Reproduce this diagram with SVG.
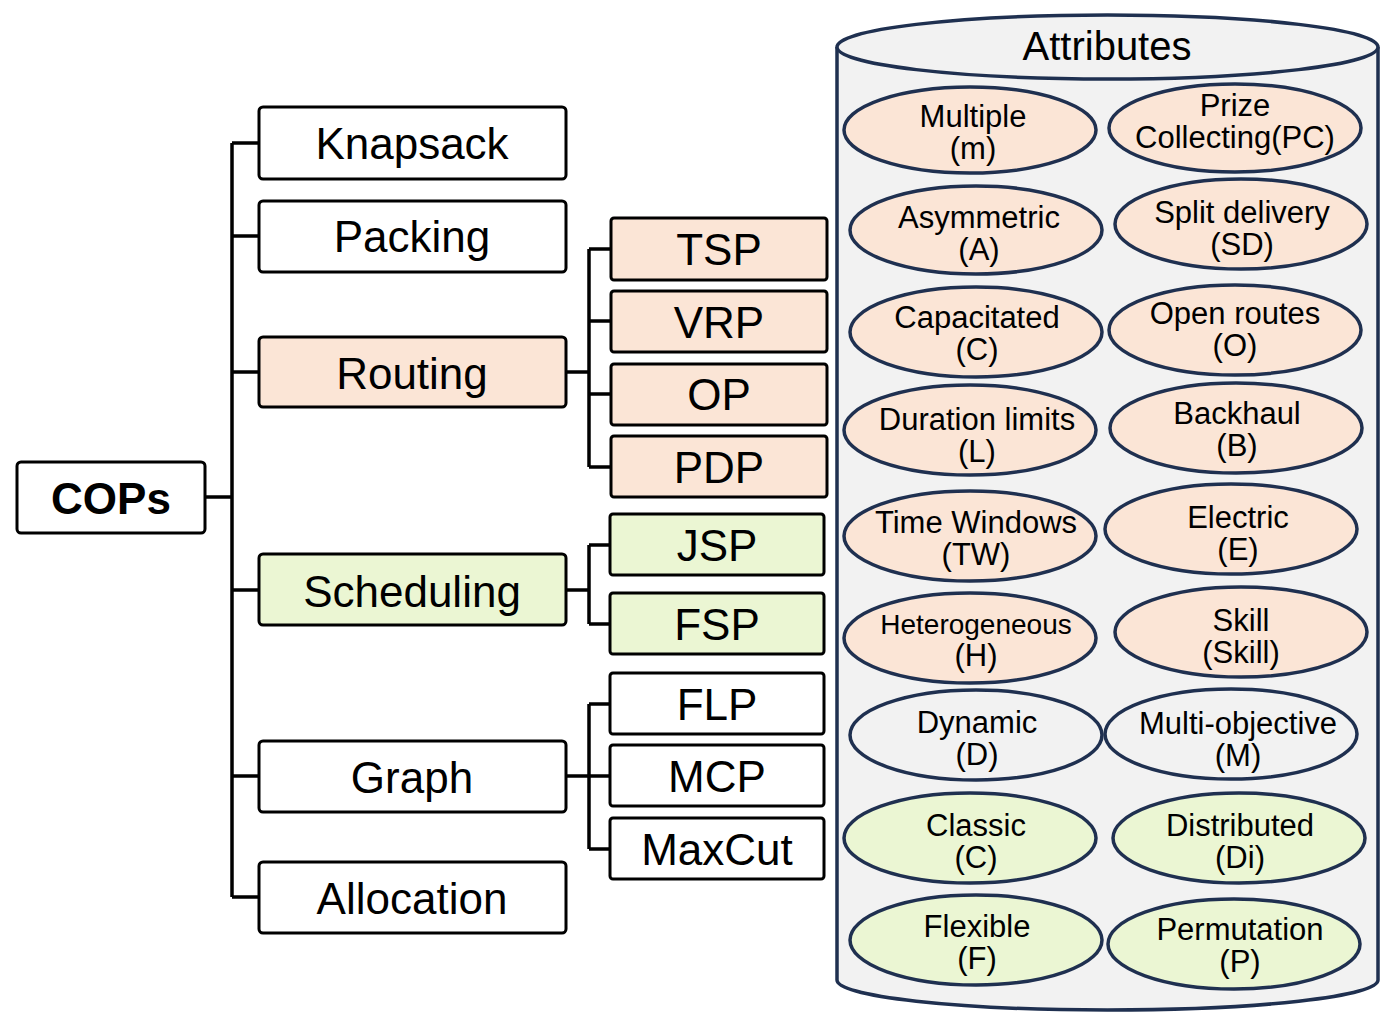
<svg xmlns="http://www.w3.org/2000/svg" width="1394" height="1024" viewBox="0 0 1394 1024">
<style>
text{font-family:"Liberation Sans",Arial,sans-serif;fill:#000;text-anchor:middle}
.b{stroke:#000;stroke-width:3;fill:#fff}
.r{fill:#FBE5D6}.g{fill:#EBF6D3}
.bt{font-size:44px}
.e{stroke:#1F3050;stroke-width:3.5}
.et{font-size:31px}
.w{fill:#F2F2F2}
path.c{fill:none;stroke:#000;stroke-width:3.5}
</style>
<rect width="1394" height="1024" fill="#fff"/>
<g id="connectors">
<path class="c" d="M205 497H232M232 143V897M232 143H259M232 236H259M232 372H259M232 590H259M232 776H259M232 897H259"/>
<path class="c" d="M566 372H589M589 249V467M589 249H611M589 321H611M589 394H611M589 467H611"/>
<path class="c" d="M566 590H589M589 545V624M589 545H610M589 624H610"/>
<path class="c" d="M566 776H610M589 704V849M589 704H610M589 849H610"/>
</g>
<g id="cops"><rect class="b" x="17" y="462" width="188" height="71" rx="4"/><text x="111" y="514" font-size="44" font-weight="bold">COPs</text></g>
<g id="knapsack"><rect class="b" x="259" y="107" width="307" height="72" rx="4"/><text class="bt" x="412" y="159">Knapsack</text></g>
<g id="packing"><rect class="b" x="259" y="201" width="307" height="71" rx="4"/><text class="bt" x="412" y="252">Packing</text></g>
<g id="routing"><rect class="b r" x="259" y="337" width="307" height="70" rx="4"/><text class="bt" x="412" y="389">Routing</text></g>
<g id="scheduling"><rect class="b g" x="259" y="554" width="307" height="71" rx="4"/><text class="bt" x="412" y="607">Scheduling</text></g>
<g id="graph"><rect class="b" x="259" y="741" width="307" height="71" rx="4"/><text class="bt" x="412" y="793">Graph</text></g>
<g id="allocation"><rect class="b" x="259" y="862" width="307" height="71" rx="4"/><text class="bt" x="412" y="914">Allocation</text></g>
<g id="tsp"><rect class="b r" x="611" y="218" width="216" height="62" rx="3"/><text class="bt" x="719" y="265">TSP</text></g>
<g id="vrp"><rect class="b r" x="611" y="291" width="216" height="61" rx="3"/><text class="bt" x="719" y="338">VRP</text></g>
<g id="op"><rect class="b r" x="611" y="364" width="216" height="61" rx="3"/><text class="bt" x="719" y="410">OP</text></g>
<g id="pdp"><rect class="b r" x="611" y="436" width="216" height="61" rx="3"/><text class="bt" x="719" y="483">PDP</text></g>
<g id="jsp"><rect class="b g" x="610" y="514" width="214" height="61" rx="3"/><text class="bt" x="717" y="561">JSP</text></g>
<g id="fsp"><rect class="b g" x="610" y="593" width="214" height="61" rx="3"/><text class="bt" x="717" y="640">FSP</text></g>
<g id="flp"><rect class="b" x="610" y="673" width="214" height="61" rx="3"/><text class="bt" x="717" y="720">FLP</text></g>
<g id="mcp"><rect class="b" x="610" y="745" width="214" height="61" rx="3"/><text class="bt" x="717" y="792">MCP</text></g>
<g id="maxcut"><rect class="b" x="610" y="818" width="214" height="61" rx="3"/><text class="bt" x="717" y="865">MaxCut</text></g>
<g id="attributes">
<path class="e w" d="M837 47V980A270 30 0 0 0 1378 980V47"/>
<ellipse class="e w" cx="1107.5" cy="47" rx="270.5" ry="32"/>
<text x="1107" y="60" font-size="40">Attributes</text>
</g>
<g id="a1"><ellipse class="e r" cx="970" cy="130" rx="126" ry="43"/><text class="et" x="973" y="127">Multiple</text><text class="et" x="973" y="159">(m)</text></g>
<g id="a2"><ellipse class="e r" cx="1235" cy="128" rx="126" ry="44"/><text class="et" x="1235" y="116">Prize</text><text class="et" x="1235" y="148">Collecting(PC)</text></g>
<g id="a3"><ellipse class="e r" cx="976" cy="230" rx="126" ry="44"/><text class="et" x="979" y="228">Asymmetric</text><text class="et" x="979" y="260">(A)</text></g>
<g id="a4"><ellipse class="e r" cx="1241" cy="224" rx="126" ry="45"/><text class="et" x="1242" y="223">Split delivery</text><text class="et" x="1242" y="255">(SD)</text></g>
<g id="a5"><ellipse class="e r" cx="976" cy="332" rx="126" ry="45"/><text class="et" x="977" y="328">Capacitated</text><text class="et" x="977" y="360">(C)</text></g>
<g id="a6"><ellipse class="e r" cx="1235" cy="330" rx="126" ry="45"/><text class="et" x="1235" y="324">Open routes</text><text class="et" x="1235" y="356">(O)</text></g>
<g id="a7"><ellipse class="e r" cx="970" cy="430" rx="126" ry="45"/><text class="et" x="977" y="430">Duration limits</text><text class="et" x="977" y="462">(L)</text></g>
<g id="a8"><ellipse class="e r" cx="1236" cy="428" rx="126" ry="45"/><text class="et" x="1237" y="424">Backhaul</text><text class="et" x="1237" y="456">(B)</text></g>
<g id="a9"><ellipse class="e r" cx="970" cy="536" rx="126" ry="45"/><text class="et" x="976" y="533">Time Windows</text><text class="et" x="976" y="565">(TW)</text></g>
<g id="a10"><ellipse class="e r" cx="1231" cy="529" rx="126" ry="45"/><text class="et" x="1238" y="528">Electric</text><text class="et" x="1238" y="560">(E)</text></g>
<g id="a11"><ellipse class="e r" cx="970" cy="638" rx="126" ry="45"/><text x="976" y="634" font-size="28">Heterogeneous</text><text class="et" x="976" y="666">(H)</text></g>
<g id="a12"><ellipse class="e r" cx="1241" cy="632" rx="126" ry="45"/><text class="et" x="1241" y="631">Skill</text><text class="et" x="1241" y="663">(Skill)</text></g>
<g id="a13"><ellipse class="e w" cx="976" cy="735" rx="126" ry="45"/><text class="et" x="977" y="733">Dynamic</text><text class="et" x="977" y="765">(D)</text></g>
<g id="a14"><ellipse class="e w" cx="1231" cy="734" rx="126" ry="45"/><text class="et" x="1238" y="734">Multi-objective</text><text class="et" x="1238" y="766">(M)</text></g>
<g id="a15"><ellipse class="e g" cx="970" cy="838" rx="126" ry="45"/><text class="et" x="976" y="836">Classic</text><text class="et" x="976" y="868">(C)</text></g>
<g id="a16"><ellipse class="e g" cx="1239" cy="838" rx="126" ry="45"/><text class="et" x="1240" y="836">Distributed</text><text class="et" x="1240" y="868">(Di)</text></g>
<g id="a17"><ellipse class="e g" cx="976" cy="940" rx="126" ry="45"/><text class="et" x="977" y="937">Flexible</text><text class="et" x="977" y="969">(F)</text></g>
<g id="a18"><ellipse class="e g" cx="1234" cy="944" rx="126" ry="45"/><text class="et" x="1240" y="940">Permutation</text><text class="et" x="1240" y="972">(P)</text></g>
</svg>
